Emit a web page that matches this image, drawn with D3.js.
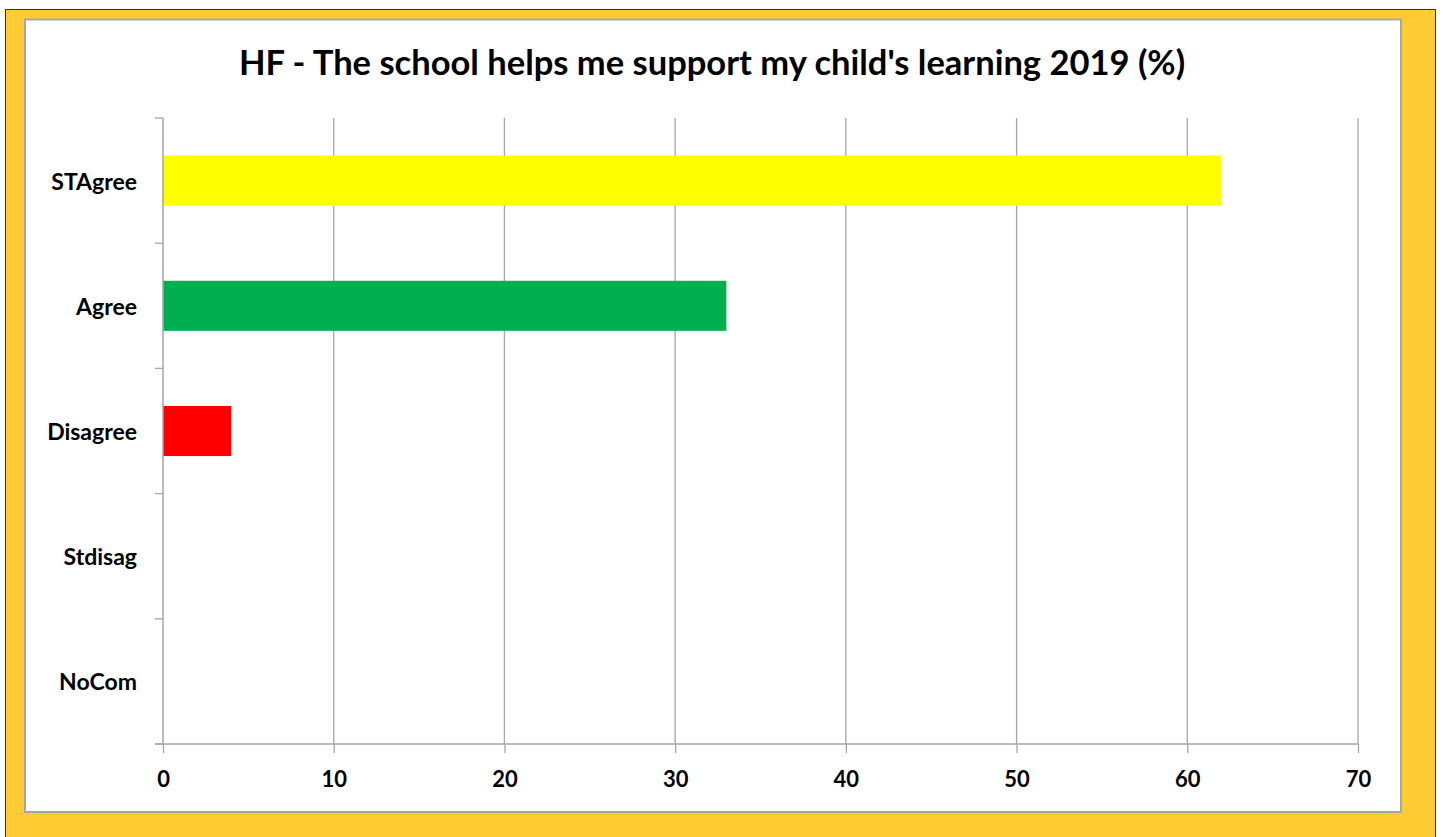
<!DOCTYPE html>
<html>
<head>
<meta charset="utf-8">
<script src="https://cdn.jsdelivr.net/npm/d3@7/dist/d3.min.js"></script>
<style>
  html, body { margin: 0; padding: 0; background: #ffffff; }
  svg { display: block; }
  text { font-family: Lato, "Open Sans", sans-serif; font-weight: 700; fill: #000; }
</style>
</head>
<body>
<script>
// Survey responses (%) for "The school helps me support my child's learning"
const categories = ["STAgree", "Agree", "Disagree", "Stdisag", "NoCom"];
const values = [62, 33, 4, 0, 0];
const barColors = ["#FFFF00", "#00B050", "#FF0000", "#4F81BD", "#8064A2"];
const xTicks = [0, 10, 20, 30, 40, 50, 60, 70];
const title = "HF - The school helps me support my child's learning 2019 (%)";

const W = 1443, H = 837;
const svg = d3.select("body").append("svg").attr("width", W).attr("height", H);

// Outer frame with yellow border
svg.append("rect").attr("x", 0).attr("y", 0).attr("width", W).attr("height", H).attr("fill", "#ffffff");
svg.append("rect").attr("x", 5.5).attr("y", 9.5).attr("width", 1430).attr("height", 840)
  .attr("fill", "#FFCC33").attr("stroke", "#333333").attr("stroke-width", 1);
svg.append("rect").attr("x", 25).attr("y", 19.5).attr("width", 1376).attr("height", 792.5)
  .attr("fill", "#ffffff").attr("stroke", "#A6A6A6").attr("stroke-width", 2);

// Title
svg.append("text").attr("x", 712).attr("y", 75).attr("text-anchor", "middle")
  .style("font-size", "34.5px").text(title);

// Plot area
const plot = { left: 163, right: 1358, top: 118, bottom: 744 };
const x = d3.scaleLinear().domain([0, 70]).range([plot.left, plot.right]);
const y = d3.scaleBand().domain(categories).range([plot.top, plot.bottom]).paddingInner(0.6).paddingOuter(0.3);
const yEdges = d3.scaleLinear().domain([0, categories.length]).range([plot.top, plot.bottom]);

const g = svg.append("g");

// Vertical gridlines
g.selectAll("line.grid").data(xTicks.filter(d => d > 0)).join("line")
  .attr("class", "grid")
  .attr("x1", d => x(d)).attr("x2", d => x(d))
  .attr("y1", plot.top).attr("y2", plot.bottom)
  .attr("stroke", "#A6A6A6").attr("stroke-width", 1.3);

// Bars
g.selectAll("rect.bar").data(categories).join("rect")
  .attr("class", "bar")
  .attr("x", x(0))
  .attr("y", d => y(d))
  .attr("width", (d, i) => x(values[i]) - x(0))
  .attr("height", y.bandwidth())
  .attr("fill", (d, i) => barColors[i]);

// Category axis (line and ticks at band edges)
const yAxisG = g.append("g");
yAxisG.append("line").attr("x1", plot.left).attr("x2", plot.left)
  .attr("y1", plot.top).attr("y2", plot.bottom).attr("stroke", "#A6A6A6").attr("stroke-width", 1.5);
yAxisG.selectAll("line.tick").data(d3.range(categories.length + 1)).join("line")
  .attr("class", "tick")
  .attr("x1", plot.left - 8).attr("x2", plot.left)
  .attr("y1", d => yEdges(d)).attr("y2", d => yEdges(d))
  .attr("stroke", "#A6A6A6").attr("stroke-width", 1.3);
yAxisG.selectAll("text").data(categories).join("text")
  .attr("x", 137).attr("y", d => y(d) + y.bandwidth() / 2)
  .attr("text-anchor", "end").attr("dominant-baseline", "central")
  .style("font-size", "23px").text(d => d);

// Value axis at the bottom
const xAxisG = svg.append("g").attr("transform", `translate(0,${plot.bottom})`)
  .call(d3.axisBottom(x).tickValues(xTicks).tickSize(9).tickPadding(18).tickSizeOuter(0));
xAxisG.select(".domain").attr("stroke", "#A6A6A6").attr("stroke-width", 1.5)
  .attr("d", `M${plot.left - 8},0H${plot.right}`);
xAxisG.selectAll(".tick line").attr("stroke", "#A6A6A6").attr("stroke-width", 1.3);
xAxisG.selectAll(".tick text").style("font-family", "Lato, 'Open Sans', sans-serif")
  .style("font-weight", 700).style("font-size", "22px").attr("fill", "#000");
</script>
</body>
</html>
